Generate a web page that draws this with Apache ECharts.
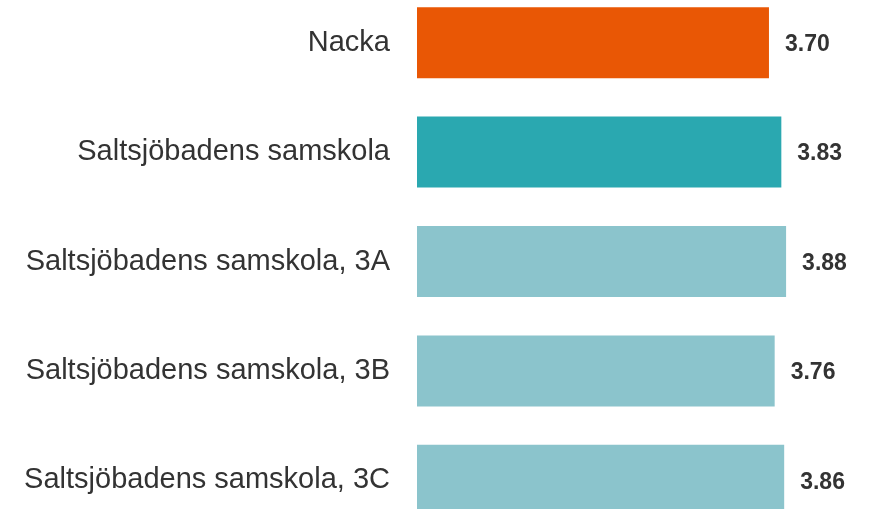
<!DOCTYPE html>
<html lang="sv">
<head>
    <meta charset="UTF-8">
    <title>Staplar</title>
    <script src="https://cdn.jsdelivr.net/npm/echarts@6/dist/echarts.min.js"></script>
</head>
<style>
html,body{margin: 0;padding: 0;background-color: #ffffff;overflow: hidden}
/* the first row starts above the top edge, so the box is taller and shifted up */
#chartBox{width: 870px;height: 547px;margin-top: -12px}
</style>
<body>
    <div id="chartBox"></div>
</body>
<script>
// data
const categories = ['Nacka', 'Saltsjöbadens samskola', 'Saltsjöbadens samskola, 3A', 'Saltsjöbadens samskola, 3B', 'Saltsjöbadens samskola, 3C'];
const values = [3.70, 3.83, 3.88, 3.76, 3.86];
const barColors = ['#E95705', '#2AA8B0', '#8BC4CC', '#8BC4CC', '#8BC4CC'];

const fontFam = '"Liberation Sans", Arial, sans-serif';

let chartObj = echarts.init(document.getElementById('chartBox'), null, {renderer: 'canvas'});
let option = {
    animation: false,
    grid: {
        top: 0,
        left: 417,
        width: 380.5,
        bottom: 0,
        containLabel: false
    },
    xAxis: {
        type: 'value',
        min: 0,
        max: 4,
        show: false
    },
    yAxis: {
        type: 'category',
        inverse: true,
        data: categories,
        axisLine: {show: false},
        axisTick: {show: false},
        splitLine: {show: false},
        axisLabel: {
            margin: 27,
            color: '#333333',
            fontSize: 29,
            fontFamily: fontFam,
            padding: [4, 0, 0, 0]
        }
    },
    series: [{
        type: 'bar',
        barWidth: 71,
        data: values.map((v, i) => ({value: v, itemStyle: {color: barColors[i]}})),
        label: {
            show: true,
            position: 'right',
            distance: 16,
            offset: [0, 2],
            color: '#333333',
            fontSize: 23,
            fontWeight: 'bold',
            fontFamily: fontFam,
            formatter: p => p.value.toFixed(2)
        }
    }]
};
chartObj.setOption(option);
</script>
</html>
